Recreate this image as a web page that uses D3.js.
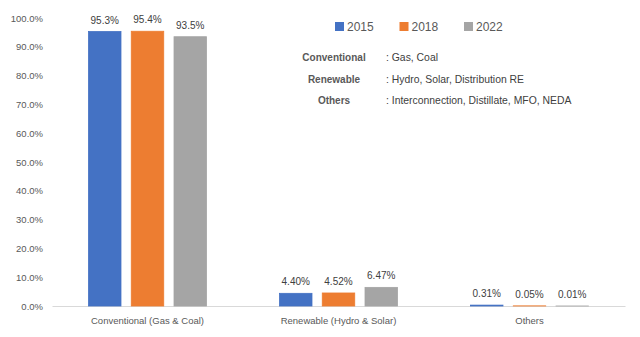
<!DOCTYPE html>
<html>
<head>
<meta charset="UTF-8">
<script src="https://cdn.jsdelivr.net/npm/d3@7"></script>
<style>
body { margin: 0; background: #fff; }
text { font-family: "Liberation Sans", Arial, sans-serif; }
</style>
</head>
<body>
<script>

var categories = ["Conventional (Gas & Coal)", "Renewable (Hydro & Solar)", "Others"];
var years = ["2015", "2018", "2022"];
var values2015 = [95.3, 4.40, 0.31];
var values2018 = [95.4, 4.52, 0.05];
var values2022 = [93.5, 6.47, 0.01];
var labels2015 = ["95.3%", "4.40%", "0.31%"];
var labels2018 = ["95.4%", "4.52%", "0.05%"];
var labels2022 = ["93.5%", "6.47%", "0.01%"];
var yTicks = [0, 10, 20, 30, 40, 50, 60, 70, 80, 90, 100];
var noteNames = ["Conventional", "Renewable", "Others"];
var noteTexts = [": Gas, Coal", ": Hydro, Solar, Distribution RE", ": Interconnection, Distillate, MFO, NEDA"];

var colors = ["#4472c4", "#ed7d31", "#a5a5a5"];

var width = 640, height = 337;
var plotLeft = 52, plotRight = 625, plotTop = 18, plotBottom = 306;

var series = [values2015, values2018, values2022];
var seriesLabels = [labels2015, labels2018, labels2022];

var svg = d3.select("body").append("svg")
    .attr("width", width)
    .attr("height", height);

var x = d3.scaleBand().domain(categories).range([plotLeft, plotRight]);
var xs = d3.scaleBand().domain(years).range([0, 118]).paddingInner(0.24);
var y = d3.scaleLinear().domain([0, 100]).range([plotBottom, plotTop]);

// y axis labels, no line
var yAxis = svg.append("g")
    .attr("transform", "translate(" + (plotLeft - 9) + ",0)")
    .call(d3.axisLeft(y).tickValues(yTicks).tickSize(0).tickPadding(0)
        .tickFormat(function(d) { return d.toFixed(1) + "%"; }));
yAxis.select(".domain").remove();
yAxis.selectAll("text")
    .attr("fill", "#595959")
    .style("font-size", "9.5px")
    .style("font-family", "'Liberation Sans', Arial, sans-serif");

// baseline
var xAxis = svg.append("g")
    .attr("transform", "translate(0," + plotBottom + ")")
    .call(d3.axisBottom(x).tickSize(0).tickPadding(11));
xAxis.select(".domain").attr("stroke", "#d9d9d9");
xAxis.selectAll("text")
    .attr("fill", "#595959")
    .style("font-size", "9.5px")
    .style("font-family", "'Liberation Sans', Arial, sans-serif");

var groups = svg.selectAll(".grp")
    .data(categories)
    .enter().append("g")
    .attr("class", "grp")
    .attr("transform", function(d) { return "translate(" + (x(d) + x.bandwidth() / 2 - 59) + ",0)"; });

groups.each(function(cat, ci) {
    var g = d3.select(this);
    years.forEach(function(yr, si) {
        var v = series[si][ci];
        g.append("rect")
            .attr("x", xs(yr))
            .attr("y", y(v))
            .attr("width", xs.bandwidth())
            .attr("height", plotBottom - y(v))
            .attr("fill", colors[si])
            .attr("stroke", colors[si])
            .attr("stroke-width", 0.8);
        g.append("text")
            .attr("x", xs(yr) + xs.bandwidth() / 2)
            .attr("y", y(v) - 8)
            .attr("text-anchor", "middle")
            .attr("fill", "#404040")
            .style("font-size", "10px")
            .text(seriesLabels[si][ci]);
    });
});

// legend
var legend = svg.append("g").attr("transform", "translate(335,22)");
years.forEach(function(yr, i) {
    var lg = legend.append("g").attr("transform", "translate(" + (i * 64.5) + ",0)");
    lg.append("rect").attr("width", 9).attr("height", 9).attr("fill", colors[i]);
    lg.append("text").attr("x", 12).attr("y", 9).attr("fill", "#595959")
        .style("font-size", "12px").text(yr);
});

// notes
noteNames.forEach(function(n, i) {
    var yy = 61 + i * 21.5;
    svg.append("text")
        .attr("x", 334).attr("y", yy)
        .attr("text-anchor", "middle")
        .attr("font-weight", "bold")
        .attr("fill", "#595959")
        .style("font-size", "10px")
        .text(n);
    svg.append("text")
        .attr("x", 386).attr("y", yy)
        .attr("fill", "#404040")
        .style("font-size", "10.4px")
        .text(noteTexts[i]);
});

</script>
</body>
</html>
